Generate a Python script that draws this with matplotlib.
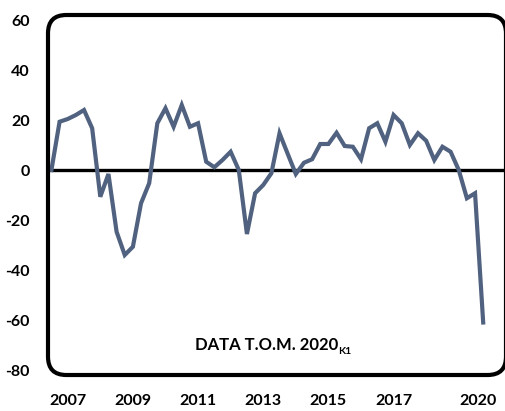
import matplotlib
matplotlib.use('Agg')
import matplotlib.pyplot as plt
from matplotlib.patches import FancyBboxPatch
import numpy as np

# quarterly values, 2006Q4 .. 2020Q1
values = [0, 19.3, 20.4, 22, 24, 16.7, -10.7, -1.6, -24.7, -34, -30.7, -13.3,
          -5.3, 18.7, 24.7, 17.3, 26, 17.3, 18.7, 3.3, 1.1, 4, 7.3, 0,
          -25.6, -9.3, -6, -1.3, 14.7, 6.5, -1.6, 2.9, 4.3, 10.4, 10.4, 14.9,
          9.6, 9.3, 4.3, 16.7, 18.7, 11.3, 22, 18.7, 10, 14.7, 11.7, 4,
          9.3, 7.3, 0, -11.3, -9.3, -61]
year_labels = ['2007', '2009', '2011', '2013', '2015', '2017', '2020']
year_pos = [2, 10, 18, 26, 34, 42, 52.4]
y_ticks = [60, 40, 20, 0, -20, -40, -60, -80]

plt.rcParams['font.family'] = ['Lato', 'DejaVu Sans']

fig = plt.figure(figsize=(5.05, 4.11), dpi=100)
ax = fig.add_axes([48 / 505, 36 / 411, 458 / 505, 360 / 411])

x = np.arange(len(values))
ax.plot(x, values, color='#50627f', lw=3, solid_joinstyle='miter', zorder=3)
ax.axhline(0, color='black', lw=2.4, zorder=2)

ax.set_xlim(-0.42, 55.8)
ax.set_ylim(-82, 62)

for s in ax.spines.values():
    s.set_visible(False)
ax.set_xticks(year_pos)
ax.set_xticklabels(year_labels, fontsize=11.5, fontweight='bold')
ax.set_yticks(y_ticks)
ax.set_yticklabels([str(v) for v in y_ticks], fontsize=11.5, fontweight='bold')
ax.tick_params(length=0)
ax.tick_params(axis='x', pad=14)
ax.tick_params(axis='y', pad=13)

frame = FancyBboxPatch((0, 0), 1, 1, boxstyle='round,pad=0,rounding_size=0.04',
                       transform=ax.transAxes, fill=False, ec='black', lw=3,
                       clip_on=False, mutation_aspect=458 / 360, zorder=4)
ax.add_patch(frame)

t = ax.text(0.32, 0.07, 'DATA T.O.M. 2020', transform=ax.transAxes,
            fontsize=12, fontweight='bold', ha='left', va='baseline')
ax.annotate('K1', xy=(1, 0), xycoords=t, fontsize=7.5, fontweight='bold',
            ha='left', va='bottom', xytext=(0.5, -2), textcoords='offset points')

fig.savefig('out.png', dpi=100)
